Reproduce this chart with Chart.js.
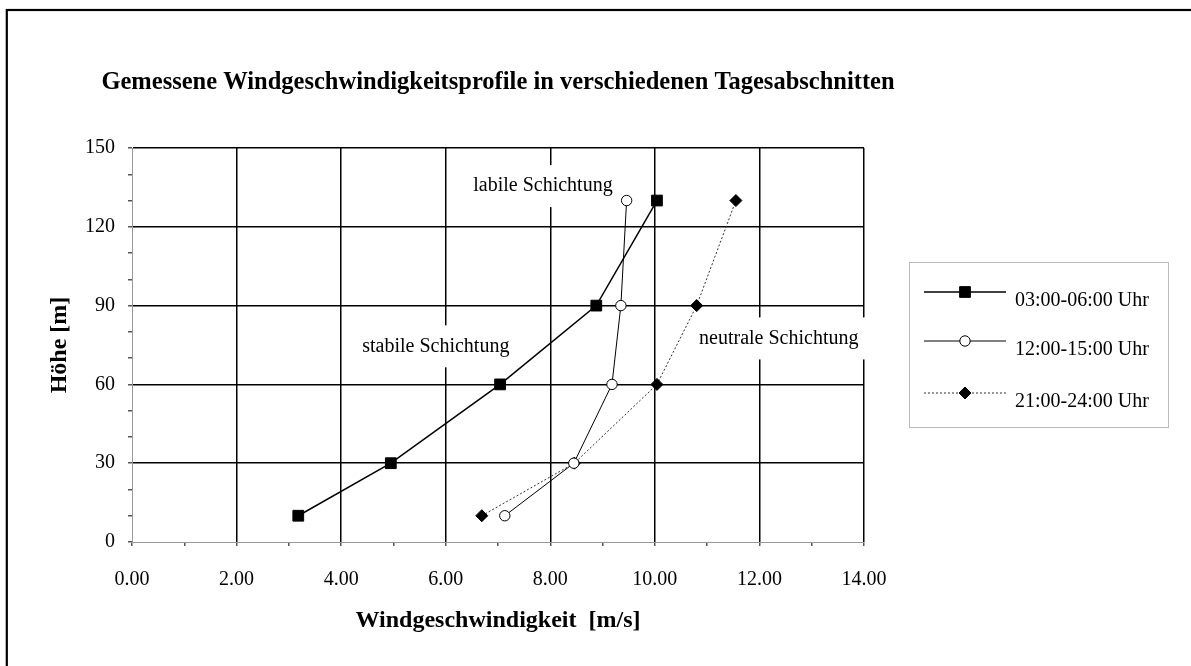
<!DOCTYPE html>
<html>
<head>
<meta charset="utf-8">
<script src="https://cdn.jsdelivr.net/npm/chart.js@4/dist/chart.umd.min.js"></script>
<style>
html,body{margin:0;padding:0;background:#fff;}
canvas{display:block;}
</style>
</head>
<body>
<canvas id="c" width="1191" height="666"></canvas>
<script>
// ---- data ----
const heights = [10, 30, 60, 90, 130];
const speed0306 = [3.18, 4.95, 7.04, 8.88, 10.04];
const speed1215 = [7.13, 8.45, 9.18, 9.35, 9.46];
const speed2124 = [6.69, 8.46, 10.04, 10.80, 11.55];
const seriesLabels = ['03:00-06:00 Uhr', '12:00-15:00 Uhr', '21:00-24:00 Uhr'];
const chartTitle = 'Gemessene Windgeschwindigkeitsprofile in verschiedenen Tagesabschnitten';
const xTitle = 'Windgeschwindigkeit  [m/s]';
const yTitle = 'Höhe [m]';
const annotations = [
  {text: 'labile Schichtung', x: 7.86, y: 135.5},
  {text: 'stabile Schichtung', x: 5.81, y: 74.5},
  {text: 'neutrale Schichtung', x: 12.37, y: 77.5}
];

const toPts = (xs) => xs.map((v, i) => ({x: v, y: heights[i]}));
const serif = "'Liberation Serif', 'Times New Roman', serif";

function drawMarker(ctx, style, x, y, r, fill, stroke, bw) {
  ctx.save();
  ctx.beginPath();
  if (style === 'rect') {
    const s = Math.SQRT1_2 * r;
    ctx.rect(x - s, y - s, 2 * s, 2 * s);
  } else if (style === 'rectRot') {
    ctx.moveTo(x - r, y); ctx.lineTo(x, y - r); ctx.lineTo(x + r, y); ctx.lineTo(x, y + r); ctx.closePath();
  } else {
    ctx.arc(x, y, r, 0, Math.PI * 2);
  }
  ctx.fillStyle = fill; ctx.fill();
  ctx.lineWidth = bw; ctx.strokeStyle = stroke; ctx.setLineDash([]); ctx.stroke();
  ctx.restore();
}

const framePlugin = {
  id: 'frame',
  beforeDraw(chart) {
    const ctx = chart.ctx;
    ctx.save();
    ctx.fillStyle = '#fff';
    ctx.fillRect(0, 0, chart.width, chart.height);
    ctx.strokeStyle = '#000';
    ctx.lineWidth = 2.2;
    ctx.strokeRect(6.8, 10, 1300, 800);
    // chart title, centred over the plot area
    const a = chart.chartArea;
    ctx.fillStyle = '#000';
    ctx.font = 'bold 24.5px ' + serif;
    ctx.textAlign = 'center';
    ctx.textBaseline = 'middle';
    ctx.fillText(chartTitle, (a.left + a.right) / 2, 83);
    ctx.restore();
  }
};

const annotationPlugin = {
  id: 'annot',
  beforeDatasetsDraw(chart) {
    const ctx = chart.ctx;
    const xs = chart.scales.x, ys = chart.scales.y;
    ctx.save();
    ctx.font = '20px ' + serif;
    ctx.textBaseline = 'middle';
    ctx.textAlign = 'center';
    annotations.forEach(a => {
      const px = xs.getPixelForValue(a.x), py = ys.getPixelForValue(a.y);
      const w = ctx.measureText(a.text).width;
      ctx.fillStyle = '#fff';
      ctx.fillRect(px - w / 2 - 8, py - 21, w + 16, 42);
      ctx.fillStyle = '#000';
      ctx.fillText(a.text, px, py);
    });
    ctx.restore();
  }
};

const legendPlugin = {
  id: 'customLegend',
  afterDraw(chart) {
    const ctx = chart.ctx;
    const bx = 909, by = 262, bw = 259, bh = 165;
    ctx.save();
    ctx.strokeStyle = '#777';
    ctx.lineWidth = 1;
    ctx.setLineDash([1, 1]);
    ctx.strokeRect(bx + 0.5, by + 0.5, bw, bh);
    const rows = [292, 341, 393];
    chart.data.datasets.forEach((ds, i) => {
      const y = rows[i];
      ctx.beginPath();
      ctx.strokeStyle = ds.borderColor;
      ctx.lineWidth = ds.borderWidth;
      ctx.setLineDash(ds.borderDash || []);
      ctx.moveTo(924, y); ctx.lineTo(1006, y);
      ctx.stroke();
      drawMarker(ctx, ds.pointStyle, 965, y, ds.pointRadius, ds.pointBackgroundColor, ds.pointBorderColor, ds.pointBorderWidth);
      ctx.fillStyle = '#000';
      ctx.font = '20px ' + serif;
      ctx.textBaseline = 'middle';
      ctx.textAlign = 'left';
      ctx.fillText(ds.label, 1015, y + 9);
    });
    ctx.restore();
  }
};

new Chart(document.getElementById('c'), {
  type: 'scatter',
  data: {
    datasets: [
      {
        label: seriesLabels[0], data: toPts(speed0306), showLine: true,
        borderColor: '#000', borderWidth: 1.5,
        pointStyle: 'rect', pointRadius: 7.6, pointBackgroundColor: '#000', pointBorderColor: '#000', pointBorderWidth: 1
      },
      {
        label: seriesLabels[1], data: toPts(speed1215), showLine: true,
        borderColor: '#000', borderWidth: 1,
        pointStyle: 'circle', pointRadius: 5.2, pointBackgroundColor: '#fff', pointBorderColor: '#000', pointBorderWidth: 1
      },
      {
        label: seriesLabels[2], data: toPts(speed2124), showLine: true,
        borderColor: '#333', borderWidth: 1, borderDash: [2, 2],
        pointStyle: 'rectRot', pointRadius: 6, pointBackgroundColor: '#000', pointBorderColor: '#000', pointBorderWidth: 1
      }
    ]
  },
  options: {
    responsive: false,
    animation: false,
    events: [],
    layout: {padding: {left: 0, right: 327, top: 148, bottom: 0}},
    plugins: {
      legend: {display: false},
      tooltip: {enabled: false},
      title: {display: false}
    },
    scales: {
      x: {
        type: 'linear', min: 0, max: 14,
        afterFit: (s) => { s.height = 124; },
        ticks: {
          stepSize: 1, color: '#000', padding: 22, maxRotation: 0, autoSkip: false,
          font: {family: serif, size: 20},
          callback: (v) => (v % 2 === 0 ? v.toFixed(2) : '')
        },
        grid: {
          color: (c) => (c.tick && c.tick.value % 2 === 0 && c.tick.value !== 0 ? '#000' : 'rgba(0,0,0,0)'),
          lineWidth: 1.5, tickLength: 4, tickColor: '#555', drawTicks: true
        },
        border: {display: true, color: '#999', width: 1},
        title: {
          display: true, text: xTitle, color: '#000',
          font: {family: serif, size: 24, weight: 'bold'},
          padding: {top: 0, bottom: 31}
        }
      },
      y: {
        type: 'linear', min: 0, max: 150,
        afterFit: (s) => { s.width = 132; },
        ticks: {
          stepSize: 10, color: '#000', padding: 13, autoSkip: false,
          font: {family: serif, size: 20},
          callback: (v) => (v % 30 === 0 ? String(v) : '')
        },
        grid: {
          color: (c) => (c.tick && c.tick.value % 30 === 0 && c.tick.value !== 0 ? '#000' : 'rgba(0,0,0,0)'),
          lineWidth: 1.5, tickLength: 4, tickColor: '#555', drawTicks: true
        },
        border: {display: true, color: '#999', width: 1},
        title: {
          display: true, text: yTitle, color: '#000',
          font: {family: serif, size: 24, weight: 'bold'},
          padding: {top: 45, bottom: 0}
        }
      }
    }
  },
  plugins: [framePlugin, annotationPlugin, legendPlugin]
});
</script>
</body>
</html>
